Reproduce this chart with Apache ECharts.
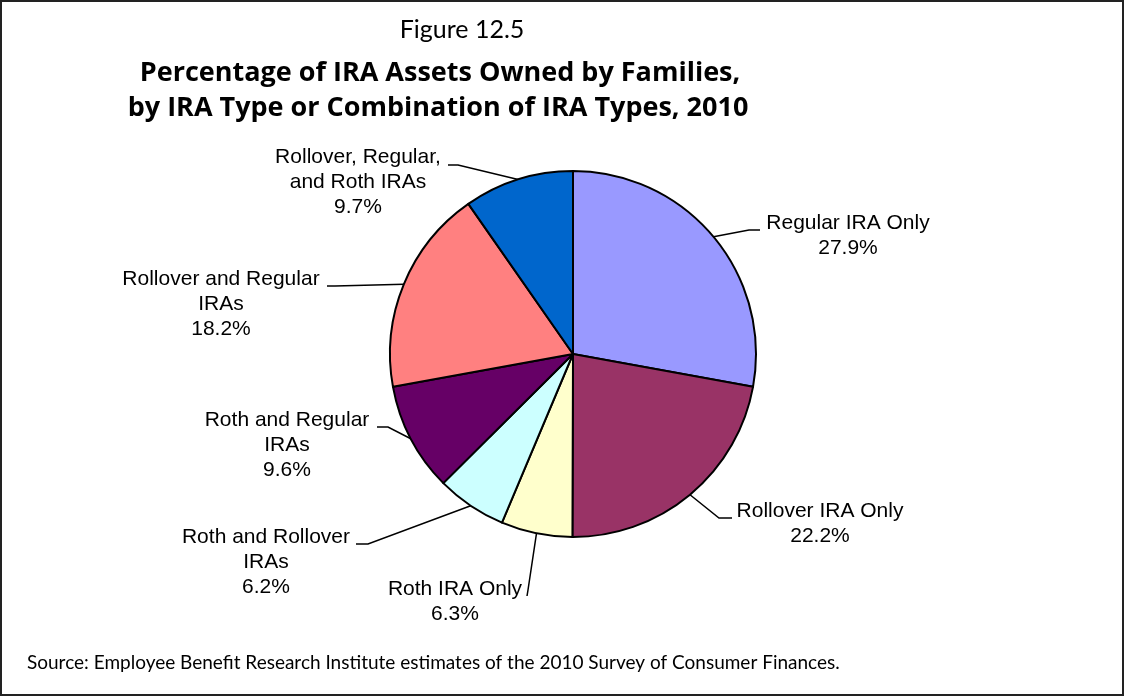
<!DOCTYPE html>
<html>
<head>
<meta charset="utf-8">
<script src="https://cdn.jsdelivr.net/npm/echarts@6/dist/echarts.min.js"></script>
<style>
  html, body { margin: 0; padding: 0; background: #fff; }
  #chart { width: 1124px; height: 696px; }
</style>
</head>
<body>
<div id="chart"></div>
<script>
// IRA asset shares by IRA type (percent), clockwise from 12 o'clock
const categories = [
  'Regular IRA Only',
  'Rollover IRA Only',
  'Roth IRA Only',
  'Roth and Rollover\nIRAs',
  'Roth and Regular\nIRAs',
  'Rollover and Regular\nIRAs',
  'Rollover, Regular,\nand Roth IRAs'
];
const shares = [27.9, 22.2, 6.3, 6.2, 9.6, 18.2, 9.7];

const sliceColors = ['#9999FF', '#993366', '#FFFFCC', '#CCFFFF', '#660066', '#FF8080', '#0066CC'];

// Label block centre and leader-line bend/end for each slice
const labelPlacement = [
  { x: 848, y: 236, bend: [749, 230], end: [760, 230] },
  { x: 820, y: 524, bend: [719, 518], end: [732, 518] },
  { x: 455, y: 602, bend: [528, 590], end: [527, 596] },
  { x: 266, y: 562, bend: [368, 544], end: [356, 544] },
  { x: 287, y: 445, bend: [388, 427], end: [377, 427] },
  { x: 221, y: 304, bend: [335, 286], end: [327, 286] },
  { x: 358, y: 182, bend: [458, 165], end: [448, 165] }
];

const chart = echarts.init(document.getElementById('chart'), null, { renderer: 'canvas' });

const regularFont = 'Lato, "Open Sans", sans-serif';
const boldFont = '"Open Sans", Lato, sans-serif';

chart.setOption({
  backgroundColor: '#ffffff',
  animation: false,
  graphic: [
    {
      type: 'rect',
      shape: { x: 1, y: 1, width: 1122, height: 694 },
      style: { fill: 'none', stroke: '#222', lineWidth: 2 },
      silent: true
    },
    {
      type: 'text', x: 462, y: 30,
      style: { text: 'Figure 12.5', font: '25px ' + regularFont, fill: '#000', align: 'center', verticalAlign: 'middle' }
    },
    {
      type: 'text', x: 440, y: 73,
      style: { text: 'Percentage of IRA Assets Owned by Families,', font: 'bold 27px ' + boldFont, fill: '#000', align: 'center', verticalAlign: 'middle' }
    },
    {
      type: 'text', x: 438, y: 108,
      style: { text: 'by IRA Type or Combination of IRA Types, 2010', font: 'bold 27px ' + boldFont, fill: '#000', align: 'center', verticalAlign: 'middle' }
    },
    {
      type: 'text', x: 27, y: 663,
      style: { text: 'Source: Employee Benefit Research Institute estimates of the 2010 Survey of Consumer Finances.', font: '19px ' + regularFont, fill: '#000', align: 'left', verticalAlign: 'middle' }
    }
  ],
  series: [{
    type: 'pie',
    center: [573, 354],
    radius: 183,
    startAngle: 90,
    clockwise: true,
    avoidLabelOverlap: false,
    data: categories.map((name, i) => ({
      name: name,
      value: shares[i],
      itemStyle: { color: sliceColors[i] }
    })),
    itemStyle: { borderColor: '#000', borderWidth: 2 },
    label: {
      show: true,
      position: 'outside',
      formatter: p => p.name + '\n' + p.value.toFixed(1) + '%',
      fontFamily: '"Liberation Sans", Arial, sans-serif',
      fontSize: 21,
      lineHeight: 25,
      color: '#000',
      align: 'center'
    },
    labelLine: {
      show: true,
      length: 20,
      length2: 10,
      lineStyle: { color: '#000', width: 1.5 }
    },
    emphasis: { disabled: true },
    labelLayout: function (params) {
      const p = labelPlacement[params.dataIndex];
      const start = params.labelLinePoints ? params.labelLinePoints[0] : p.bend;
      return {
        x: p.x,
        y: p.y,
        align: 'center',
        verticalAlign: 'middle',
        labelLinePoints: [start, p.bend, p.end]
      };
    }
  }]
});
</script>
</body>
</html>
